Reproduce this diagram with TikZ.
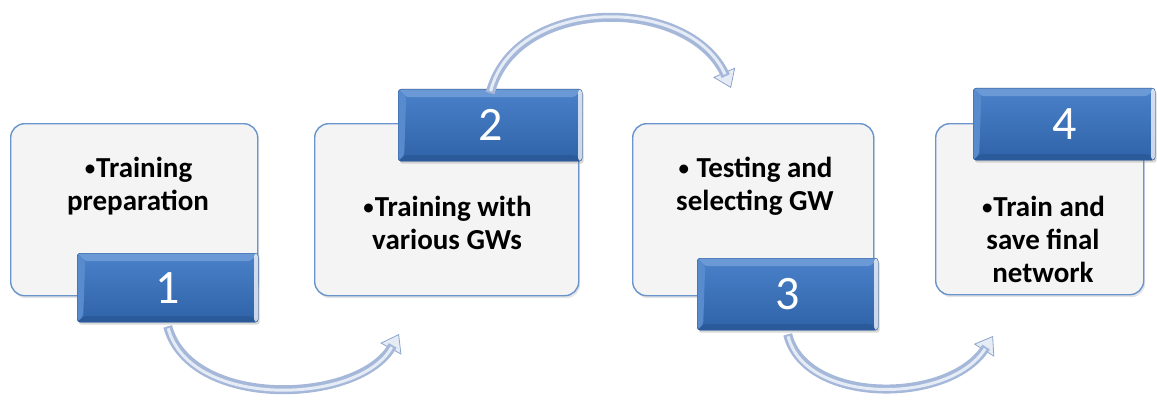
\documentclass[tikz,border=0pt]{standalone}
\usepackage{fontspec}
\setmainfont{Carlito}
\usetikzlibrary{arrows.meta,shadows}

\definecolor{boxfill}{HTML}{F4F4F4}
\definecolor{boxline}{HTML}{6A94CC}
\definecolor{tabtop}{HTML}{4A81C9}
\definecolor{tabbot}{HTML}{2F63A8}
\definecolor{tabhi}{HTML}{6B99D6}
\definecolor{tablo}{HTML}{2A5A9A}
\definecolor{arrowout}{HTML}{A6B8DA}
\definecolor{arrowin}{HTML}{E6ECF6}
\definecolor{arrowedge}{HTML}{8EA4CC}

\newcommand{\stepdot}{{\mdseries\fontsize{25}{25}\selectfont\raisebox{1pt}{•}}}

\tikzset{
  stepbox/.style={draw=boxline, line width=1.4pt, fill=boxfill, rounded corners=14pt,
    anchor=north west, inner sep=0pt,
    drop shadow={opacity=0.2, shadow xshift=1.5pt, shadow yshift=-2.5pt}},
  numtab/.style={rounded corners=3pt, anchor=north west, inner sep=0pt,
    top color=tabtop, bottom color=tabbot, draw=tabbot!85!black, line width=0.4pt,
    text=white, font=\fontsize{48}{50}\selectfont,
    drop shadow={opacity=0.3, shadow xshift=1.5pt, shadow yshift=-2.5pt},
    path picture={
      \fill[tabhi] (path picture bounding box.north west) -- (path picture bounding box.north east)
        -- ([xshift=-8pt,yshift=-8pt]path picture bounding box.north east)
        -- ([xshift=8pt,yshift=-8pt]path picture bounding box.north west) -- cycle;
      \fill[tablo] (path picture bounding box.south west) -- (path picture bounding box.south east)
        -- ([xshift=-6pt,yshift=6pt]path picture bounding box.south east)
        -- ([xshift=6pt,yshift=6pt]path picture bounding box.south west) -- cycle;
      \fill[tabtop!92!white] (path picture bounding box.north west) -- ([xshift=8pt,yshift=-8pt]path picture bounding box.north west)
        -- ([xshift=6pt,yshift=6pt]path picture bounding box.south west) -- (path picture bounding box.south west) -- cycle;
      \fill[white,opacity=0.75] ([xshift=-4pt]path picture bounding box.north east) rectangle (path picture bounding box.south east);
    }},
  steptext/.style={font=\bfseries\fontsize{29}{33}\selectfont, align=center, text=black, inner sep=0pt},
  arrowtip/.style={draw=arrowedge, line width=0.8pt,
    -{Triangle[length=17pt,width=24pt,fill=arrowin]}},
  arrowshaft/.style={draw=arrowout, line width=9pt, shorten >=13pt},
  arrowshine/.style={draw=arrowin, line width=3pt, shorten >=15pt, shorten <=2pt}
}

\begin{document}
\begin{tikzpicture}[x=1pt,y=-1pt]
  \useasboundingbox[fill=white] (0,0) rectangle (1157,404);

  % white step boxes
  \node[stepbox, minimum width=247pt, minimum height=172pt] (b1) at (10,123) {};
  \node[stepbox, minimum width=264pt, minimum height=172pt] (b2) at (314,123) {};
  \node[stepbox, minimum width=241pt, minimum height=172pt] (b3) at (632,123) {};
  \node[stepbox, minimum width=208pt, minimum height=171pt] (b4) at (935,123) {};

  % step descriptions
  \node[steptext] (t1) at (138,186) {\stepdot Training\\preparation};
  \node[steptext] (t2) at (447,223) {\stepdot Training with\\various GWs};
  \node[steptext] (t3) at (755,186) {\stepdot\ Testing and\\selecting GW};
  \node[steptext] (t4) at (1043,239) {\stepdot Train and\\save final\\network};

  % numbered tabs
  \node[numtab, minimum width=181pt, minimum height=69pt] (n1) at (77,253) {1};
  \node[numtab, minimum width=184pt, minimum height=72pt] (n2) at (398,89) {2};
  \node[numtab, minimum width=181pt, minimum height=72pt] (n3) at (697,258) {3};
  \node[numtab, minimum width=182pt, minimum height=72pt] (n4) at (973,88) {4};

  % arrow end points
  \coordinate (e1) at (399,334);
  \coordinate (e2) at (731,88);
  \coordinate (e3) at (993,336);

  % curved arrows between the steps
  \foreach \s/\a/\b/\e in {n1.south/{(190,410)}/{(360,405)}/e1,
                           n2.north/{(515,-5)}/{(690,-5)}/e2,
                           n3.south/{(805,405)}/{(950,405)}/e3}{
    \draw[arrowtip] ([yshift=-4pt]\s) .. controls \a and \b .. (\e);
    \draw[arrowshaft] ([yshift=-4pt]\s) .. controls \a and \b .. (\e);
    \draw[arrowshine] ([yshift=-4pt]\s) .. controls \a and \b .. (\e);
  }
\end{tikzpicture}
\end{document}
